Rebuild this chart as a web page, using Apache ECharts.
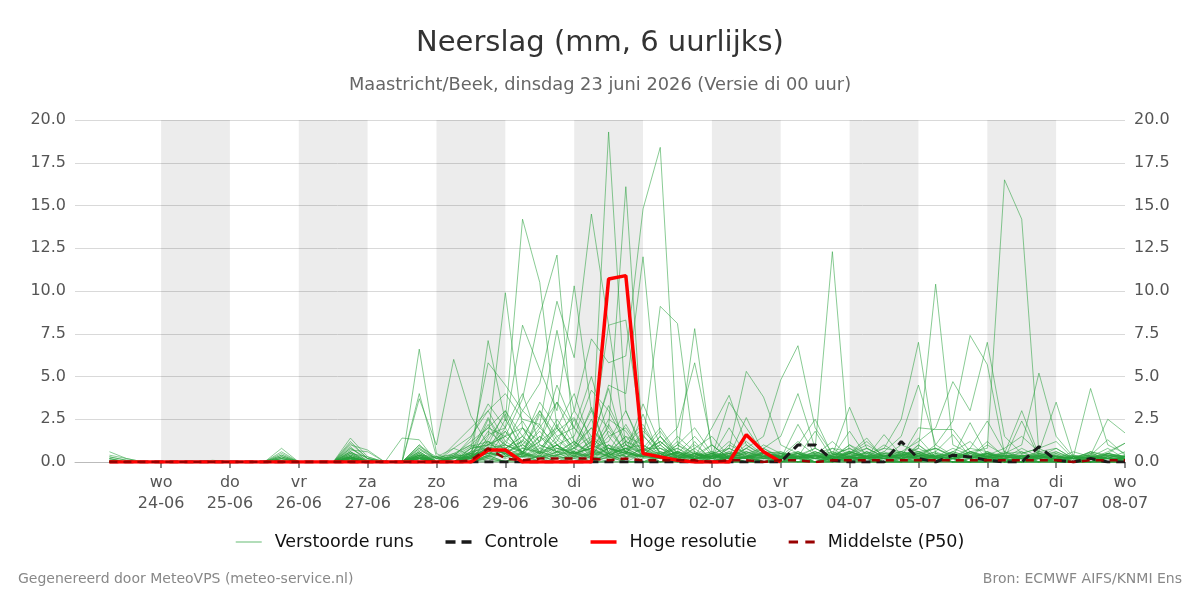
<!DOCTYPE html>
<html>
<head>
<meta charset="utf-8">
<title>Neerslag (mm, 6 uurlijks)</title>
<script src="https://cdn.jsdelivr.net/npm/echarts@6/dist/echarts.min.js"></script>
<style>
  html, body { margin: 0; padding: 0; background: #fff; }
  #chart { width: 1200px; height: 600px; }
</style>
</head>
<body>
<div id="chart"></div>
<script>
// 6-uurlijkse waarden, eerste punt = di 23-06 06 uur (uren t.o.v. wo 24-06 00 uur)
var startHour = -18;
var stepHours = 6;

var dayNames = ['wo', 'do', 'vr', 'za', 'zo', 'ma', 'di', 'wo', 'do', 'vr', 'za', 'zo', 'ma', 'di', 'wo'];
var dayDates = ['24-06', '25-06', '26-06', '27-06', '28-06', '29-06', '30-06', '01-07', '02-07', '03-07', '04-07', '05-07', '06-07', '07-07', '08-07'];
// dagen met grijze achtergrond (index in dayDates)
var shadedDays = [0, 2, 4, 6, 8, 10, 12];

var controle = [0,0,0, 0,0,0,0, 0,0,0,0, 0,0,0,0, 0,0,0,0, 0,0,0,0, 0,0,0,0, 0,0,0,0, 0,0,0,0, 0,0,0,0, 0,1.0,1.0,.1, 0,0,0,1.2, .2,0,.4,.3, .1,0,0,.9, .1,0,.2,0, 0];
// hoge resolutie loopt tot 03-07 00 uur
var hogeResolutie = [0,0,0, 0,0,0,0, 0,0,0,0, 0,0,0,0, 0,0,0,0, 0,0,0,.7, .7,0,0,0, 0,0,10.7,10.9, .5,.3,.1,0, 0,0,1.6,.6, 0];
var middelste = [0,0,0, 0,0,0,0, 0,0,0,0, 0,0,0,0, 0,0,0,0, 0,0,.1,.8, .2,.1,.2,.2, .2,.2,.1,.2, .1,.1,.1,.1, 0,.1,.1,0, .1,.1,0,.1, .1,.1,.1,.1, .1,.1,.1,.1, .1,.1,.1,.1, .1,0,.1,.1, .1];

var runs = [
  [.6,.2,0, 0,0,0,0, 0,0,0,.8, 0,0,0,1.4, .3,0,0,6.6, .5,0,0,1.5, 9.9,2.0,.5,1.0, 0,.5,19.3,3.0, .8,0,.3,0, 0,1.0,.5,0, 0,.6,.2,0, .3,0,.5,.2, 0,.4,.2,0, .5,.1,0,.3, 0,0,.2,.5, .3],
  [.4,.2,0, 0,0,0,0, 0,0,0,.6, 0,0,0,1.2, .2,0,0,4.0, .3,0,0,7.1, 2.4,14.2,10.5,2.0, .5,1.2,.4,.8, .3,1.5,.2,0, .5,0,.3,0, .2,0,0,.4, .8,.3,0,.2, 1.0,.2,0,.6, .3,0,.2,0, .4,0,0,.2, 0],
  [.3,.1,0, 0,0,0,0, 0,0,0,.5, 0,0,0,1.0, .7,0,0,3.7, 1.0,6.0,2.7,1.0, 1.5,3.7,8.6,12.1, 1.0,3.0,.5,1.5, .3,.2,0,.5, 0,.4,.2,0, 0,.3,0,.2, .5,.2,0,.3, .2,0,.3,0, 0,.2,0,0, 0,0,.3,0, .2],
  [.2,0,0, 0,0,0,0, 0,0,0,.4, 0,0,0,.8, .2,0,1.4,1.3, 0,0,.8,5.8, 4.5,3.0,4.6,9.4, 6.1,14.5,8.0,1.0, 2.0,.5,0,.3, 0,.2,0,.6, 0,.2,.4,0, .3,.6,.2,0, .4,.3,0,0, .2,0,.3,0, 0,.3,0,.2, 0],
  [.1,0,0, 0,0,0,0, 0,0,0,.3, 0,0,0,.6, 0,0,0,1.0, 0,.3,1.4,3.4, 2.0,8.0,5.4,3.0, 10.3,3.0,2.0,16.1, .8,.8,.2,0, .3,0,0,0, .2,0,.5,0, 0,.3,0,.5, .2,0,.2,0, 0,0,.4,.2, 0,.2,0,0, .1],
  [0,0,0, 0,0,0,0, 0,0,0,.2, 0,0,0,.5, 0,0,0,.8, 0,1.0,2.0,3.0, 4.0,2.5,2.2,7.7, 3.0,7.2,5.8,6.2, 14.8,18.4,1.0,2.0, .5,0,.3,0, 0,.5,0,.3, .2,0,.4,0, 0,.5,0,.2, .3,0,0,.2, 0,0,.3,0, .2],
  [0,0,0, 0,0,0,0, 0,0,0,0, 0,0,0,.4, .1,0,0,.6, 0,.5,1.0,2.0, 1.5,2.0,1.2,3.5, 2.0,1.0,8.0,8.3, 1.2,9.1,8.1,.5, 0,.3,0,0, .5,0,0,.2, 0,.4,.2,0, .3,0,.2,0, 0,.4,0,0, .2,0,0,.3, 0],
  [0,0,0, 0,0,0,0, 0,0,0,0, 0,0,0,.3, 0,0,0,.4, 0,0,.5,1.0, 3.0,1.5,.5,2.0, 4.0,1.0,4.5,4.0, 12.0,1.5,.5,7.8, .6,0,.3,0, 0,.3,0,0, .2,0,0,.3, 0,0,.3,0, .2,0,0,0, .3,0,0,0, .1],
  [0,0,0, 0,0,0,0, 0,0,0,0, 0,0,0,0, 0,0,0,.4, 0,0,.3,.8, 1.0,.5,3.0,1.5, 2.0,5.0,1.5,2.0, .5,1.0,2.0,5.8, 1.0,.2,0,0, .3,0,0,.5, 0,.2,0,0, .2,.3,0,0, 0,.2,0,0, .5,0,.2,0, 0],
  [0,0,0, 0,0,0,0, 0,0,0,0, 0,0,0,.3, 0,0,0,0, .3,0,.6,2.6, 1.0,3.0,2.0,1.0, 1.5,4.2,3.0,1.0, .5,.2,1.0,.3, 2.0,3.9,1.0,.3, .5,.2,0,0, .3,0,.2,0, 0,.2,0,0, .3,0,0,.2, 0,0,0,.3, 0],
  [0,0,0, 0,0,0,0, 0,0,0,0, 0,0,0,.2, 0,0,0,.3, 0,0,.4,1.2, .8,1.5,.6,2.5, 1.0,2.0,.8,.5, 1.8,.8,.3,.2, .5,.8,5.3,3.8, 1.0,.5,0,.2, .3,0,0,.6, .3,0,.2,0, .4,0,0,.2, 0,.3,0,0, .2],
  [0,0,0, 0,0,0,0, 0,0,0,0, 0,0,0,.3, 0,0,0,.5, 0,0,.2,.6, 2.5,.8,1.8,.6, .3,1.4,.6,2.2, .5,.3,1.2,.4, 1.0,.2,.8,1.5, 4.8,6.8,2.0,.5, .3,.2,0,0, 1.0,.3,0,.2, .5,0,.3,0, 0,0,.5,0, .2],
  [0,0,0, 0,0,0,0, 0,0,0,0, 0,0,0,.2, 0,0,0,.2, 0,0,.3,.5, .6,1.0,.5,.8, .5,.3,1.0,.6, .3,.5,.2,.8, 0,.3,.5,.8, 1.5,4.0,.8,12.3, .3,.2,0,0, .5,0,.2,0, 0,.3,0,0, .2,0,0,.3, 0],
  [0,0,0, 0,0,0,0, 0,0,0,0, 0,0,0,0, 0,0,0,0, .2,0,.8,1.0, 1.8,.5,1.2,2.0, .8,1.5,.3,1.0, .6,1.2,.4,.2, .3,3.5,2.0,.5, .2,1.0,2.5,.4, 3.2,.8,.3,.2, .5,.2,0,0, .3,0,.2,0, 0,.2,0,0, .3],
  [0,0,0, 0,0,0,0, 0,0,0,0, 0,0,0,.3, 0,0,0,.6, 0,0,0,.4, 1.2,.6,.3,1.5, .5,.8,2.0,.6, .3,.5,.8,.3, .2,.5,.3,1.0, .5,.3,.6,.2, 1.0,.5,.8,2.5, 7.0,.5,.3,.8, .6,.2,0,.3, .2,0,.4,0, 0],
  [0,0,0, 0,0,0,0, 0,0,0,0, 0,0,0,.2, 0,0,0,.3, 0,.2,.5,.3, .8,1.2,.4,1.0, .3,.6,.5,1.2, .8,.2,.6,.3, .5,.2,1.0,.4, .3,.5,.2,.8, .6,.3,1.0,.4, .8,10.4,1.0,.5, .3,.2,.6,0, .2,0,0,.4, .2],
  [0,0,0, 0,0,0,0, 0,0,0,0, 0,0,0,.1, 0,0,0,.2, 0,0,.4,.8, .5,.3,1.0,.6, 1.2,.4,.8,.5, .3,1.0,.2,.4, .6,.3,.8,.2, .4,.2,.5,.3, .3,.2,.6,1.5, 4.5,1.0,2.4,7.4, 5.7,.5,.3,.2, .4,0,.2,0, .2],
  [0,0,0, 0,0,0,0, 0,0,0,0, 0,0,0,0, 0,0,0,.2, 0,.3,.2,1.2, .4,.8,.6,1.0, .3,1.0,.5,.3, .8,.3,.5,.2, .2,.8,.3,.5, .6,.3,.2,.4, .5,.8,.3,.6, 1.2,2.0,4.7,3.0, 7.0,1.5,.5,.8, .3,.2,0,.5, .3],
  [0,0,0, 0,0,0,0, 0,0,0,0, 0,0,0,0, 0,0,0,0, 0,0,.2,.5, .3,.6,.2,.8, .5,.2,.8,.3, .4,.6,.2,.5, .3,.2,.6,.2, .3,.5,.2,.3, .2,.6,.3,.4, .5,.3,.2,.6, .8,16.5,14.2,.5, .3,.2,0,.5, .2],
  [0,0,0, 0,0,0,0, 0,0,0,0, 0,0,0,0, 0,0,0,.2, 0,0,.3,.6, .2,.5,.3,.4, .6,.3,.2,.5, .3,.2,.4,.6, .2,.3,.2,.5, .3,.2,.6,.2, .4,.3,.2,.5, .6,.3,.8,.4, .3,.5,1.0,5.2, 1.5,.3,.2,.4, .2],
  [.2,0,0, 0,0,0,0, 0,0,0,.2, 0,0,0,.4, 0,0,0,.3, 0,0,.2,.8, .6,.3,.5,.2, .3,.5,.4,.6, .2,.3,.5,.2, .4,.2,.3,.6, .5,.3,.4,.2, .6,.2,.3,.4, .2,.5,.3,.6, .4,.8,1.5,.6, 3.5,.3,4.3,1.0, .5],
  [0,0,0, 0,0,0,0, 0,0,0,0, 0,0,0,.2, 0,0,0,.4, 0,0,.3,1.0, .8,.4,.2,.6, .5,.8,.3,.2, .4,.3,.6,.2, .3,.5,.2,.8, .2,.4,.3,.2, .5,.3,.8,.6, .3,1.0,.4,.2, .6,.3,.5,.8, 1.2,.2,.4,2.5, 1.7],
  [.3,.1,0, 0,0,0,0, 0,0,0,.4, 0,0,0,.8, .2,0,0,.9, .3,.4,1.2,2.0, 3.0,1.0,2.2,.5, 1.2,.3,1.8,.6, 3.4,1.0,.2,.5, .3,1.2,.4,0, .2,.3,.8,.3, 1.0,.2,.4,.3, 2.0,1.9,1.9,.6, .3,.5,3.0,.4, .2,.3,.2,.6, 1.1],
  [.2,0,0, 0,0,0,0, 0,0,0,.3, 0,0,0,.6, .1,0,0,.5, 0,.8,1.5,3.0, 1.2,2.4,.8,1.8, 2.6,.8,3.3,1.2, .6,1.8,.4,.3, .5,.2,1.5,.6, .3,1.2,.4,.2, .5,1.4,.2,.3, .8,.3,.6,1.2, .2,.4,.3,.6, .8,.2,.3,.4, .3],
  [.1,0,0, 0,0,0,0, 0,0,0,.2, 0,0,0,1.1, .2,0,0,.8, .2,.3,.5,1.6, 2.0,4.0,1.0,.6, .8,2.0,.6,1.5, 1.0,.4,.8,.2, .3,.6,.2,.4, .2,.3,.5,.8, .2,.3,1.6,.4, .6,.8,.4,.3, 1.2,.3,.2,.5, .3,.2,.6,.3, .4],
  [0,0,0, 0,0,0,.1, 0,0,0,.3, 0,0,0,.9, 0,0,0,1.0, .2,.5,.2,2.5, .8,1.5,3.0,1.0, .4,1.0,.5,.8, .6,1.2,.3,1.0, .2,.4,.6,.3, .2,.5,.3,.4, .8,.2,.3,.6, .4,.3,.2,.8, 2.4,.6,.3,.4, .2,.3,.5,.2, .6],
  [0,0,0, 0,0,0,0, 0,0,0,.2, 0,0,0,.7, .6,0,0,.6, 0,.2,.8,1.0, 1.5,.6,2.0,3.5, 1.2,.5,1.0,.3, .5,.3,1.5,.6, .2,.8,.3,.2, .4,.2,.6,.3, .5,1.0,.4,.2, .3,.6,.2,.4, .3,.2,.8,.3, .5,.2,.3,.8, .2],
  [0,0,0, 0,0,0,0, 0,0,0,0, 0,0,0,.5, 0,0,0,.4, .3,0,.5,1.3, 2.8,.4,1.5,.8, .6,2.5,.3,1.2, 2.2,.5,.2,.8, 1.5,.3,.2,.5, .3,.6,.2,.3, .2,.4,.3,1.0, .6,.2,.5,.3, .4,.3,.2,.6, .3,.4,.2,.3, .3],
  [0,0,0, 0,0,0,0, 0,0,0,0, 0,0,0,.4, 0,0,0,.3, 0,.3,.2,.9, .5,1.2,3.5,2.0, .8,.3,2.2,.5, .3,.8,.5,1.5, .4,.2,.8,.3, .6,.2,.3,.5, .2,.3,.6,.2, .4,.8,.3,.2, .5,.2,.4,.3, .2,.6,.3,.2, .2],
  [0,0,0, 0,0,0,0, 0,0,0,0, 0,0,0,.3, 0,0,0,.2, 0,0,.5,.6, 1.0,.6,1.2,4.5, 2.0,.6,.4,.8, 1.0,.3,.6,.2, .5,.3,.2,.6, .2,.4,.8,.3, .3,.2,.5,.4, .6,.3,.2,.5, .3,.6,.2,.4, .2,.3,.2,.5, .3],
  [0,0,0, 0,0,0,0, 0,0,0,0, 0,0,0,.2, 0,0,0,.2, 0,0,.2,.5, .3,.8,.5,1.2, 3.0,1.5,.8,.6, .4,1.2,.3,.5, .2,.6,.4,.2, .3,.2,.4,.6, .3,.5,.2,.3, .4,.2,.6,.3, .2,.4,.3,.2, .6,.2,.3,.2, .2],
  [0,0,0, 0,0,0,0, 0,0,0,0, 0,0,0,.3, 0,0,0,.3, 0,.4,1.0,.7, .5,2.0,.6,.3, .5,.8,1.2,3.0, .6,.3,.2,.4, .3,.2,.5,.3, .2,.3,.2,.4, .6,.3,.2,.5, .3,.4,.2,.3, .5,.2,.4,.3, .3,.2,.2,.4, .2],
  [0,0,0, 0,0,0,0, 0,0,0,0, 0,0,0,.2, 0,0,0,0, 0,0,.4,0, .8,0,0,.6, 0,0,1.0,0, 0,.5,0,0, .4,0,0,.2, 0,0,0,.3, 0,.4,0,0, 0,.2,0,0, .6,0,0,0, .2,0,0,0, 0],
  [0,0,0, 0,0,0,0, 0,0,0,0, 0,0,0,.1, 0,0,0,0, 0,0,0,.4, 0,.4,0,0, .3,0,0,.8, 0,0,.3,0, 0,.3,0,0, .3,0,0,0, .4,0,0,0, 0,.3,0,0, 0,0,.4,0, 0,0,.3,0, 0],
  [0,0,0, 0,0,0,0, 0,0,0,0, 0,0,0,0, 0,0,0,.2, 0,0,0,.3, 1.8,.5,.2,1.0, .4,1.2,4.3,.5, 1.6,.3,.6,.2, 1.0,.2,.3,.4, .2,2.2,.4,.3, 1.8,.3,.2,.4, 1.4,.3,.2,.5, .3,.2,2.4,.3, .2,.3,.4,1.3, .4],
  [0,0,0, 0,0,0,0, 0,0,0,0, 0,0,0,.3, 0,0,0,.4, 0,.2,.6,2.2, .5,1.0,.3,.6, 2.5,.4,1.5,.3, .8,2.0,.5,.3, .6,.3,1.2,.4, .2,.3,1.8,.2, .5,1.2,.3,.4, .3,.6,1.6,.3, .5,.3,.2,.4, .6,.2,.3,.2, .3],
  [.1,0,0, 0,0,0,0, 0,0,0,.1, 0,0,0,.5, .3,0,0,.2, .3,.8,.4,.6, 2.0,.3,.8,.4, 1.0,.6,2.5,1.8, .3,.4,1.0,.5, .2,.5,.3,.8, .3,.5,.2,.3, .6,.3,.4,.2, .5,.3,.2,.6, .3,.5,.6,.2, .4,.2,.3,.2, .2],
  [0,0,0, 0,0,0,0, 0,0,0,.1, 0,0,0,.6, 0,0,0,.7, .2,.3,.9,1.2, .4,1.3,.5,2.2, .6,.3,.8,.5, 1.5,.6,.3,.2, .4,.2,.6,.3, .5,.3,.2,.6, .3,.8,.3,.2, .4,.2,.6,.3, .2,.4,.3,.5, .3,.2,.6,.4, .3],
  [0,0,0, 0,0,0,0, 0,0,0,0, 0,0,0,.3, 0,0,0,.5, 0,0,.3,1.8, 1.0,.6,1.5,.4, .8,3.2,.5,1.0, .4,.2,.6,.4, .3,.5,.2,.3, .4,.6,.3,.2, .2,.3,.5,.6, .3,.2,.4,.3, 1.0,.4,.2,.3, .2,.4,.2,.3, .2],
  [0,0,0, 0,0,0,0, 0,0,0,0, 0,0,0,.2, 0,0,0,.3, 0,.4,.3,.8, .6,.4,2.8,1.3, .5,.8,.3,.6, .3,.6,.4,.2, .5,.2,.3,.5, .2,.3,.4,.2, .3,.5,.2,.3, .2,.4,.3,.2, .5,.3,.2,.4, .3,.2,.3,.2, .2],
  [0,0,0, 0,0,0,0, 0,0,0,0, 0,0,0,0, 0,0,0,0, 0,0,0,.2, 0,0,.4,0, 0,.3,0,0, 0,0,.4,0, 0,0,0,.3, 0,0,.2,0, 0,0,0,0, .3,0,0,0, 0,.2,0,0, 0,0,0,.2, 0],
  [0,0,0, 0,0,0,0, 0,0,0,0, 0,0,0,.1, 0,0,0,0, 0,0,0,.3, 0,0,0,.2, .4,0,0,0, 0,.3,0,0, 0,0,.3,0, 0,0,0,.3, 0,0,0,0, 0,0,.2,0, 0,0,0,0, 0,.2,0,0, 0],
  [0,0,0, 0,0,0,0, 0,0,0,0, 0,0,0,0, 0,0,0,0, 0,0,0,0, 0,.5,0,0, 0,0,.5,0, 0,0,0,0, .2,0,0,0, 0,.2,0,0, 0,0,.2,0, 0,0,0,0, 0,0,0,.2, 0,0,0,0, 0],
  [0,0,0, 0,0,0,0, 0,0,0,0, 0,0,0,.2, 0,0,0,.2, 0,.2,.3,.5, .4,.3,.6,.3, .2,.5,.3,.4, 2.8,.3,.5,.2, .3,2.0,.4,.2, .3,.2,.4,1.2, .3,.2,.4,.3, .5,.8,.3,2.3, .4,.3,.2,.3, .8,.2,.3,.5, 1.1],
  [0,0,0, 0,0,0,0, 0,0,0,0, 0,0,0,.2, 0,0,0,.3, 0,0,.4,.6, .3,.5,.2,.4, .6,.2,.4,.8, .3,1.5,.3,.2, .4,.3,2.6,.5, .3,.2,.3,.2, .6,.3,.2,.4, .2,.3,.5,.2, .3,.4,.2,.3, .2,.3,.4,.2, .2],
  [0,0,0, 0,0,0,0, 0,0,0,0, 0,0,0,.3, 0,0,0,.4, 0,0,.6,.8, .5,0,.4,0, .6,0,0,.5, 0,0,0,1.2, 0,.4,0,0, 0,.4,0,0, 0,.6,0,0, .4,0,0,0, .4,0,0,.5, 0,0,.6,0, .4],
  [0,0,0, 0,0,0,0, 0,0,0,0, 0,0,0,.1, 0,0,0,0, 0,.3,0,.4, 0,.6,0,0, .4,0,.5,0, 0,.4,0,0, 0,0,.4,0, 0,0,.4,0, .5,0,0,0, 0,.4,0,0, 0,0,0,.4, 0,0,0,0, 0],
  [0,0,0, 0,0,0,0, 0,0,0,0, 0,0,0,0, 0,0,0,0, 0,0,0,.3, .5,0,0,.4, 0,0,.3,0, .5,0,0,0, 0,0,0,.3, 0,0,0,0, .3,0,0,0, 0,.3,0,0, 0,0,0,.3, 0,0,0,0, 0],
  [0,0,0, 0,0,0,0, 0,0,0,0, 0,0,0,.2, 0,0,0,0, 0,0,0,.2, 0,.3,0,0, 0,0,.3,0, 0,0,0,0, .2,0,0,0, 0,.2,0,0, 0,0,0,.2, 0,0,0,0, 0,.2,0,0, 0,0,.2,0, 0],
  [0,0,0, 0,0,0,0, 0,0,0,0, 0,0,0,0, 0,0,0,0, 0,0,0,0, .1,0,0,0, .2,0,0,0, 0,0,.2,0, 0,0,0,0, 0,0,0,.2, 0,0,0,0, 0,0,0,0, .2,0,0,0, 0,0,0,0, 0]
];

var font = '"DejaVu Sans", sans-serif';
var runColor = 'rgba(40,160,60,0.55)';

var chart = echarts.init(document.getElementById('chart'));

function toPairs(vals) {
  return vals.map(function (v, i) {
    return [startHour + i * stepHours, v];
  });
}

var dayTicks = dayDates.map(function (d, i) { return i * 24; });

var series = [];
// grijze achtergrond om de dag
series.push({
  type: 'line',
  name: 'achtergrond',
  data: [],
  silent: true,
  z: 1,
  markArea: {
    silent: true,
    itemStyle: { color: 'rgba(0,0,0,0.075)' },
    data: shadedDays.map(function (d) {
      return [{ xAxis: d * 24 }, { xAxis: (d + 1) * 24 }];
    })
  }
});
runs.forEach(function (r) {
  series.push({
    type: 'line',
    name: 'Verstoorde runs',
    data: toPairs(r),
    symbol: 'none',
    silent: true,
    z: 2,
    lineStyle: { width: 1, color: runColor },
    itemStyle: { color: runColor }
  });
});
series.push({
  type: 'line',
  name: 'Controle',
  data: toPairs(controle),
  symbol: 'none',
  z: 3,
  lineStyle: { width: 3, color: '#1a1a1a', type: [9, 6] },
  itemStyle: { color: '#1a1a1a' }
});
series.push({
  type: 'line',
  name: 'Hoge resolutie',
  data: toPairs(hogeResolutie),
  symbol: 'none',
  z: 4,
  lineStyle: { width: 3.5, color: '#ff0000' },
  itemStyle: { color: '#ff0000' }
});
series.push({
  type: 'line',
  name: 'Middelste (P50)',
  data: toPairs(middelste),
  symbol: 'none',
  z: 5,
  lineStyle: { width: 2.5, color: '#990000', type: [8, 6] },
  itemStyle: { color: '#990000' }
});

var yAxisBase = {
  type: 'value',
  min: 0,
  max: 20,
  interval: 2.5,
  axisLine: { show: false },
  axisTick: { show: false },
  axisLabel: {
    color: '#555',
    fontSize: 16,
    fontFamily: font,
    margin: 9,
    formatter: function (v) { return v.toFixed(1); }
  }
};

// legenda-iconen als streepjes
var legendItems = [
  { name: 'Verstoorde runs', icon: 'path://M0,0h26v1.2h-26z', itemStyle: { color: 'rgba(40,160,60,0.6)' } },
  { name: 'Controle', icon: 'path://M0,0h10v3.5h-10zM16,0h10v3.5h-10z', itemStyle: { color: '#1a1a1a' } },
  { name: 'Hoge resolutie', icon: 'path://M0,0h26v3.5h-26z', itemStyle: { color: '#ff0000' } },
  { name: 'Middelste (P50)', icon: 'path://M0,0h9v3h-9zM16,0h9v3h-9z', itemStyle: { color: '#990000' } }
];

chart.setOption({
  animation: false,
  backgroundColor: '#fff',
  title: [
    {
      text: 'Neerslag (mm, 6 uurlijks)',
      left: 'center',
      top: 24,
      textStyle: { fontSize: 29, fontWeight: 'normal', color: '#333', fontFamily: font }
    },
    {
      text: 'Maastricht/Beek, dinsdag 23 juni 2026 (Versie di 00 uur)',
      left: 'center',
      top: 71,
      textStyle: { fontSize: 17.8, fontWeight: 'normal', color: '#666', fontFamily: font }
    }
  ],
  legend: {
    top: 528,
    left: 'center',
    itemWidth: 26,
    itemHeight: 14,
    itemGap: 32,
    data: legendItems,
    textStyle: { fontSize: 17.5, color: '#111', fontFamily: font, padding: [0, 0, 0, 8] }
  },
  grid: { left: 75, right: 75, top: 120, bottom: 138 },
  xAxis: {
    type: 'value',
    min: -30,
    max: 336,
    splitLine: { show: false },
    axisLine: { show: true, lineStyle: { color: '#bbb' } },
    axisTick: { show: true, length: 6, customValues: dayTicks, lineStyle: { color: '#666', width: 1.5 } },
    axisLabel: {
      customValues: dayTicks,
      color: '#555',
      fontSize: 16,
      fontFamily: font,
      lineHeight: 21,
      margin: 10,
      formatter: function (v) {
        var i = Math.round(v / 24);
        return dayNames[i] + '\n' + dayDates[i];
      }
    }
  },
  yAxis: [
    Object.assign({}, yAxisBase, { position: 'left', splitLine: { show: true, lineStyle: { color: '#d9d9d9', width: 1 } } }),
    Object.assign({}, yAxisBase, { position: 'right', splitLine: { show: false } })
  ],
  graphic: [
    {
      type: 'text',
      left: 18,
      top: 572,
      style: { text: 'Gegenereerd door MeteoVPS (meteo-service.nl)', fill: '#888', font: '14px ' + font }
    },
    {
      type: 'text',
      right: 18,
      top: 572,
      style: { text: 'Bron: ECMWF AIFS/KNMI Ens', fill: '#888', font: '14px ' + font }
    }
  ],
  series: series
});
</script>
</body>
</html>
